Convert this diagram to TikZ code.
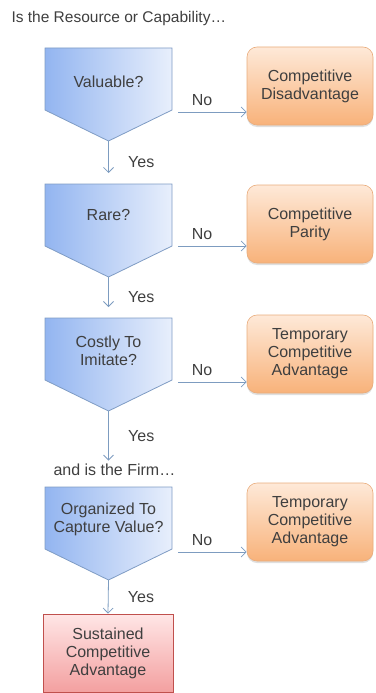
\documentclass[tikz,border=0pt]{standalone}
\usepackage{fontspec}
\setmainfont{Liberation Sans}
\usetikzlibrary{arrows.meta,shadows}

\definecolor{qleft}{HTML}{93B5F0}
\definecolor{qright}{HTML}{E8EFFC}
\definecolor{qline}{HTML}{7F9CC4}
\definecolor{otop}{HTML}{FEE9D8}
\definecolor{obottom}{HTML}{F8B27A}
\definecolor{oline}{HTML}{E9AC7C}
\definecolor{rtop}{HTML}{FFE6E6}
\definecolor{rbottom}{HTML}{F3A0A0}
\definecolor{rline}{HTML}{C0504D}
\definecolor{flow}{HTML}{7D9CC0}
\definecolor{txt}{HTML}{3F3F3F}

\tikzset{
  question/.style={draw=qline, line width=0.8pt, left color=qleft, right color=qright},
  qtext/.style={align=center, text=txt},
  result/.style={draw=oline, line width=0.6pt, rounded corners=10pt, top color=otop, bottom color=obottom,
    minimum width=126pt, minimum height=78pt, align=center, text=txt,
    drop shadow={opacity=0.25, shadow xshift=0pt, shadow yshift=-2pt}},
  final/.style={draw=rline, line width=0.8pt, top color=rtop, bottom color=rbottom,
    minimum width=130pt, minimum height=78pt, align=center, text=txt},
  flowline/.style={draw=flow, line width=0.8pt, -{Straight Barb[length=5pt,width=10pt]}},
  answer/.style={text=txt}
}

\begin{document}
\begin{tikzpicture}[x=1pt, y=-1pt, font=\fontsize{16}{18}\selectfont]
    \useasboundingbox (0,0) rectangle (375,693);

    % Headings
    \node[anchor=west, text=txt, font=\fontsize{15.5}{18}\selectfont] (resource) at (8,18) {Is the Resource or Capability…};
    \node[anchor=west, text=txt] (firm) at (50,470) {and is the Firm…};

    % Question shapes
    \draw[question] (45,48) -- (172,48) -- (172,110) -- (108.5,141) -- (45,110) -- cycle;
    \node[qtext] (valuable) at (108.5,82) {Valuable?};
    \coordinate (valuable tip) at (108.5,141);

    \draw[question] (45,184) -- (172,184) -- (172,246) -- (108.5,277) -- (45,246) -- cycle;
    \node[qtext] (rare) at (108.5,215) {Rare?};
    \coordinate (rare tip) at (108.5,277);

    \draw[question] (45,318) -- (172,318) -- (172,380) -- (108.5,411) -- (45,380) -- cycle;
    \node[qtext] (costly) at (108.5,351) {Costly To\\Imitate?};
    \coordinate (costly tip) at (108.5,411);

    \draw[question] (45,487) -- (172,487) -- (172,549) -- (108.5,580) -- (45,549) -- cycle;
    \node[qtext] (organized) at (108.5,519) {Organized To\\Capture Value?};
    \coordinate (organized tip) at (108.5,580);

    % Outcomes
    \node[result] (disadvantage) at (310,86) {Competitive\\Disadvantage};
    \node[result] (parity) at (310,224) {Competitive\\Parity};
    \node[result] (temporary1) at (310,354) {Temporary\\Competitive\\Advantage};
    \node[result] (temporary2) at (310,522) {Temporary\\Competitive\\Advantage};
    \node[final] (sustained) at (108,653) {Sustained\\Competitive\\Advantage};

    % No arrows
    \coordinate (no1 start) at (178,112);
    \coordinate (no2 start) at (178,246);
    \coordinate (no3 start) at (178,382);
    \coordinate (no4 start) at (178,552);
    \draw[flowline] (no1 start) -- (no1 start -| disadvantage.west) node[pos=0.35, above=3pt, answer] {No};
    \draw[flowline] (no2 start) -- (no2 start -| parity.west) node[pos=0.35, above=3pt, answer] {No};
    \draw[flowline] (no3 start) -- (no3 start -| temporary1.west) node[pos=0.35, above=3pt, answer] {No};
    \draw[flowline] (no4 start) -- (no4 start -| temporary2.west) node[pos=0.35, above=3pt, answer] {No};

    % Yes arrows
    \draw[flowline, shorten >=11pt] (valuable tip) -- (valuable tip |- 0,184) node[pos=0.5, right=16pt, answer] {Yes};
    \draw[flowline, shorten >=11pt] (rare tip) -- (rare tip |- 0,318) node[pos=0.5, right=16pt, answer] {Yes};
    \draw[flowline] (costly tip) -- (costly tip |- firm.north) node[pos=0.5, right=16pt, answer] {Yes};
    \draw[flowline] (organized tip) -- (sustained.north) node[pos=0.5, right=16pt, answer] {Yes};
\end{tikzpicture}
\end{document}
